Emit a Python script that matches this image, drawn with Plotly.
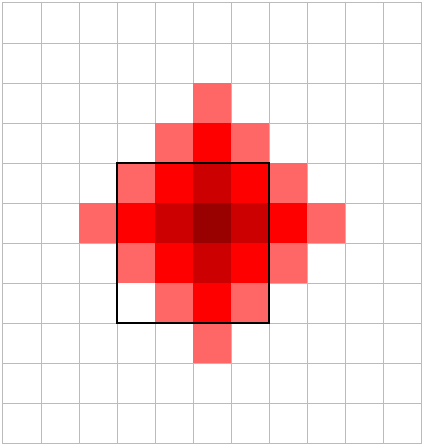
import plotly.graph_objects as go
import numpy as np

n_cols = 11
n_rows = 11
# intensity levels by row (top to bottom): None = empty, 0 = white
levels = [
    [None]*11,
    [None]*11,
    [None, None, None, None, None, 1, None, None, None, None, None],
    [None, None, None, None, 1, 2, 1, None, None, None, None],
    [None, None, None, 1, 2, 3, 2, 1, None, None, None],
    [None, None, 1, 2, 3, 4, 3, 2, 1, None, None],
    [None, None, None, 1, 2, 3, 2, 1, None, None, None],
    [None, None, None, 0, 1, 2, 1, None, None, None, None],
    [None, None, None, None, None, 1, None, None, None, None, None],
    [None]*11,
    [None]*11,
]
sel_cols = [3, 6]
sel_rows = [4, 7]
level_colors = ["#ffffff", "#ff6666", "#ff0000", "#cc0000", "#990000"]

z = np.array([[np.nan if v is None else v for v in row] for row in levels], dtype=float)

cs = []
k = len(level_colors)
for i, c in enumerate(level_colors):
    cs.append([i / k, c])
    cs.append([(i + 1) / k, c])

fig = go.Figure()
fig.add_trace(go.Heatmap(
    z=z, x=list(range(n_cols)), y=list(range(n_rows)),
    colorscale=cs, zmin=-0.5, zmax=k - 0.5, showscale=False,
    hoverongaps=False,
))
fig.add_shape(type="rect", x0=sel_cols[0] - 0.5, x1=sel_cols[1] + 0.5,
              y0=sel_rows[0] - 0.5, y1=sel_rows[1] + 0.5,
              line=dict(color="black", width=2), layer="above")

axis_common = dict(showgrid=True, gridcolor="#bbbbbb", gridwidth=1,
                   tick0=0.5, dtick=1, showticklabels=False, ticks="",
                   zeroline=False, showline=True, mirror=True,
                   linecolor="#bbbbbb", linewidth=1)
fig.update_xaxes(range=[-0.5, n_cols - 0.5], **axis_common)
fig.update_yaxes(range=[n_rows - 0.5, -0.5], **axis_common)
fig.update_layout(width=423, height=446, margin=dict(l=3, r=2, t=3, b=3),
                  plot_bgcolor="white", paper_bgcolor="white")
fig.write_html("out.html", config={"displayModeBar": False},
               post_script="document.body.style.margin='0';")
